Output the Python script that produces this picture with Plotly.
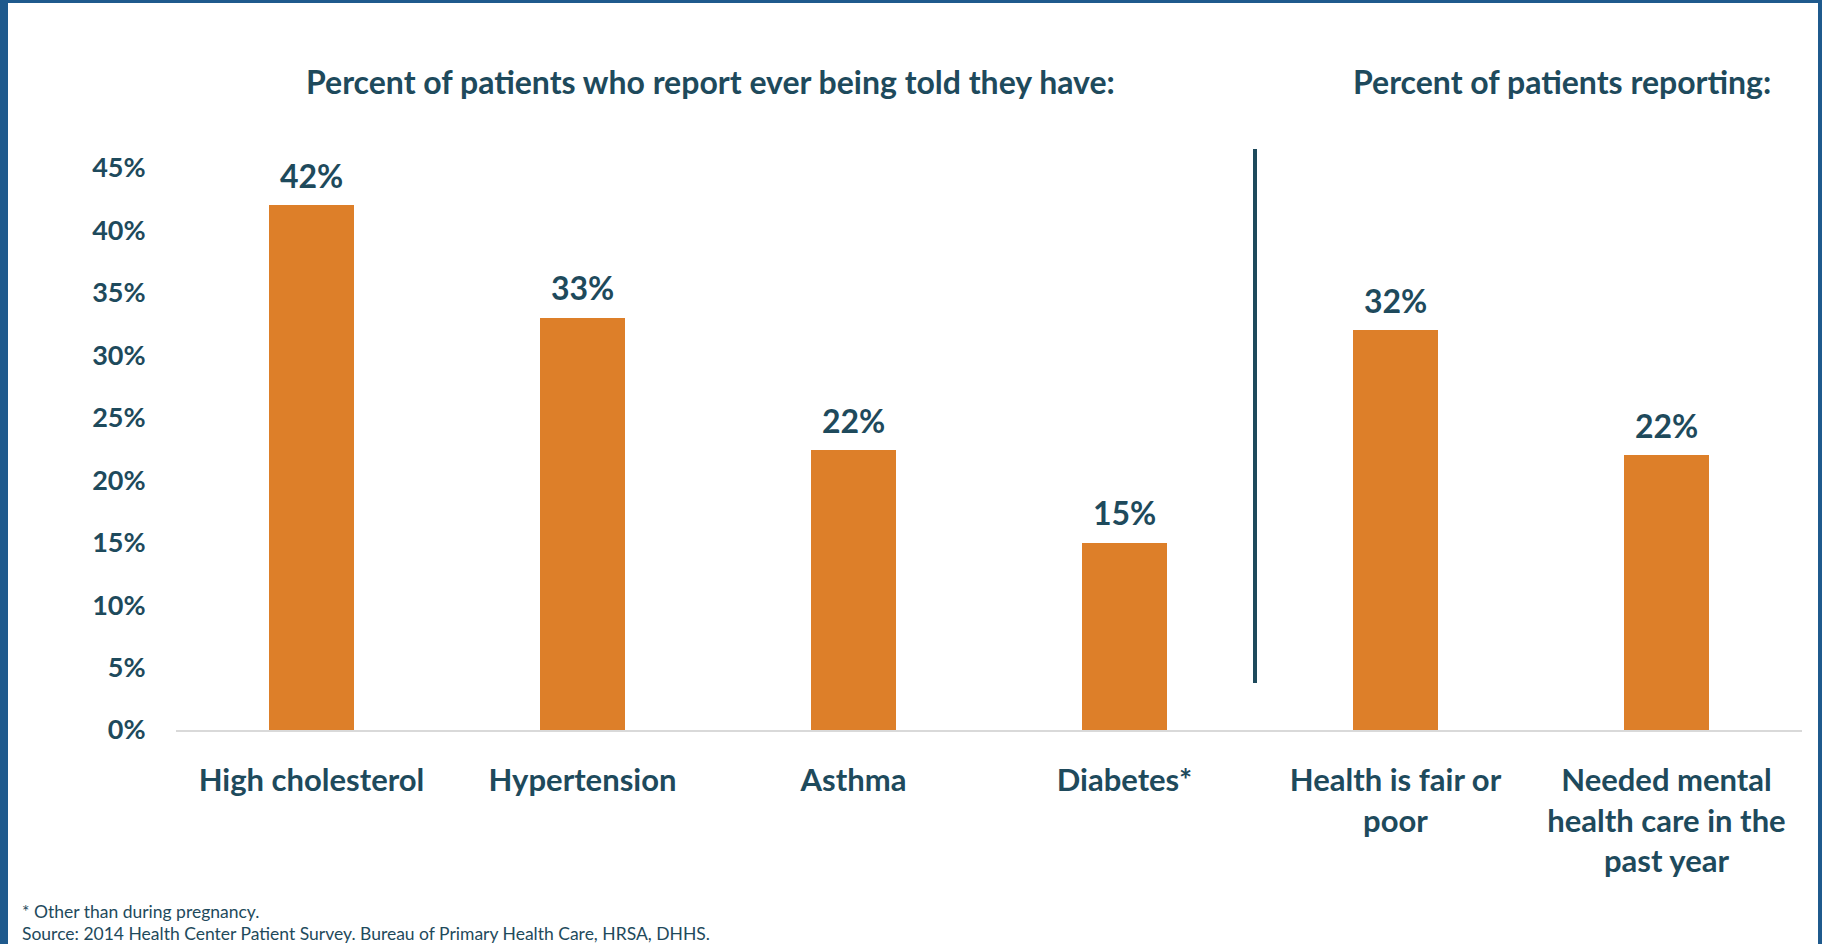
import plotly.graph_objects as go

categories = ["High cholesterol", "Hypertension", "Asthma", "Diabetes*",
              "Health is fair or<br>poor", "Needed mental<br>health care in the<br>past year"]
values = [42, 33, 22.4, 15, 32, 22]
value_labels = ["42%", "33%", "22%", "15%", "32%", "22%"]
y_ticks = [0, 5, 10, 15, 20, 25, 30, 35, 40, 45]
y_tick_labels = [f"{t}%" for t in y_ticks]

W, H = 1822, 944
TXT = "#1e4a5c"
BAR = "#dd7f29"
BORDER = "#1f5a8d"
FONT = "Lato"

def px(x):
    return x / W

def py(y):
    return 1 - y / H

fig = go.Figure()
fig.add_trace(go.Bar(
    x=categories, y=values, width=0.314,
    marker=dict(color=BAR, line=dict(width=0)),
    hoverinfo="x+y",
))

value_annotations = [
    dict(text=lab, x=cat, y=val, xref="x", yref="y",
         xanchor="center", yanchor="middle", yshift=30, showarrow=False,
         font=dict(family=FONT, size=32, color=TXT, weight="bold"))
    for cat, val, lab in zip(categories, values, value_labels)
]

fig.update_layout(
    width=W, height=H,
    margin=dict(l=0, r=0, t=0, b=0, autoexpand=False),
    paper_bgcolor="white", plot_bgcolor="white",
    showlegend=False,
    bargap=0,
    font=dict(family=FONT, color=TXT),
    xaxis=dict(
        domain=[px(176), px(1802)],
        range=[-0.5, 5.5],
        automargin=False,
        showline=True, linecolor="#d9d9d9", linewidth=2,
        ticks="outside", ticklen=22, tickcolor="rgba(0,0,0,0)",
        tickfont=dict(family=FONT, size=31, color=TXT, weight="bold"),
        showgrid=False, zeroline=False,
    ),
    yaxis=dict(
        domain=[py(730), py(168)],
        range=[0, 45],
        automargin=False,
        tickvals=y_ticks, ticktext=y_tick_labels,
        ticks="outside", ticklen=24, tickcolor="rgba(0,0,0,0)",
        tickfont=dict(family=FONT, size=27, color=TXT, weight="bold"),
        showgrid=False, zeroline=False, showline=False,
    ),
    annotations=value_annotations + [
        dict(text="Percent of patients who report ever being told they have:",
             x=px(710), y=py(81), xref="paper", yref="paper",
             xanchor="center", yanchor="middle", showarrow=False,
             font=dict(family=FONT, size=32, color=TXT, weight="bold")),
        dict(text="Percent of patients reporting:",
             x=px(1562), y=py(81), xref="paper", yref="paper",
             xanchor="center", yanchor="middle", showarrow=False,
             font=dict(family=FONT, size=32, color=TXT, weight="bold")),
        dict(text="* Other than during pregnancy.",
             x=px(20), y=py(911), xref="paper", yref="paper",
             xanchor="left", yanchor="middle", showarrow=False,
             font=dict(family=FONT, size=17.5, color=TXT)),
        dict(text="Source: 2014 Health Center Patient Survey. Bureau of Primary Health Care, HRSA, DHHS.",
             x=px(20), y=py(933), xref="paper", yref="paper",
             xanchor="left", yanchor="middle", showarrow=False,
             font=dict(family=FONT, size=17.5, color=TXT)),
    ],
    shapes=[
        dict(type="line", xref="paper", yref="paper",
             x0=px(1255), x1=px(1255), y0=py(149), y1=py(683),
             line=dict(color="#1e4a5c", width=4)),
        dict(type="rect", xref="paper", yref="paper", x0=0, x1=px(8), y0=0, y1=1,
             fillcolor=BORDER, line=dict(width=0)),
        dict(type="rect", xref="paper", yref="paper", x0=0, x1=1, y0=py(3), y1=1,
             fillcolor=BORDER, line=dict(width=0)),
        dict(type="rect", xref="paper", yref="paper", x0=px(1818), x1=1, y0=0, y1=1,
             fillcolor=BORDER, line=dict(width=0)),
    ],
)

fig.write_html("out.html")
